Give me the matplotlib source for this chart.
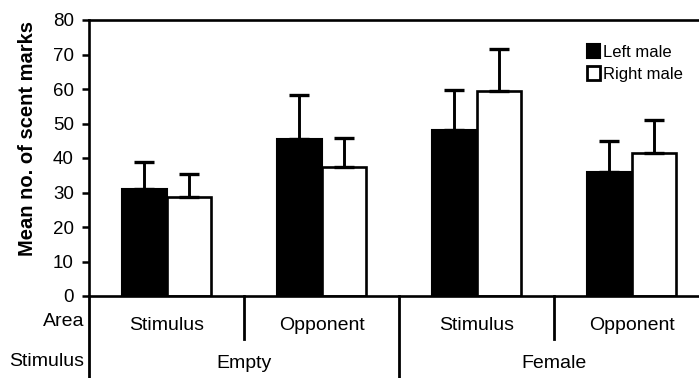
import numpy as np
import matplotlib
matplotlib.use('Agg')
import matplotlib.pyplot as plt
import matplotlib.transforms as mtransforms
from matplotlib.patches import Patch

plt.rcParams['font.family'] = ['Liberation Sans', 'DejaVu Sans']

# data
areas = ['Stimulus', 'Opponent', 'Stimulus', 'Opponent']
stimuli = ['Empty', 'Female']
left_male = [30.9, 45.5, 48.1, 36.0]
left_err = [7.8, 12.8, 11.6, 8.9]
right_male = [28.6, 37.5, 59.5, 41.5]
right_err = [6.7, 8.4, 12.1, 9.5]
yticks = [0, 10, 20, 30, 40, 50, 60, 70, 80]

W, H = 699, 378
fig = plt.figure(figsize=(W / 100, H / 100), dpi=100)
ax = fig.add_axes([89 / W, 1 - 296 / H, 620 / W, 276 / H])

x = np.arange(len(areas))
bw = 0.29
err_kw = dict(ecolor='black', elinewidth=2.1, capsize=7.5, capthick=2.4)

ax.bar(x - bw / 2, left_male, bw, color='black', edgecolor='black', linewidth=1.5,
       yerr=[np.zeros(len(x)), left_err], error_kw=err_kw, label='Left male', zorder=2)
ax.bar(x + bw / 2, right_male, bw, color='white', edgecolor='black', linewidth=1.9,
       yerr=[np.zeros(len(x)), right_err], error_kw=err_kw, label='Right male', zorder=2)

ax.set_xlim(-0.5, 3.5)
ax.set_ylim(0, 80)
ax.set_yticks(yticks)
ax.set_xticks([])
ax.tick_params(axis='y', direction='out', length=5, width=1.8, pad=6, labelsize=13.5)
for s in ['left', 'bottom', 'top']:
    ax.spines[s].set_linewidth(1.9)
ax.spines['right'].set_visible(False)

ax.set_ylabel('Mean no. of scent marks', fontsize=14.5, fontweight='bold')
ax.yaxis.set_label_coords(-0.084, 0.57)

# category axis below the plot
tr = mtransforms.blended_transform_factory(ax.transData, fig.transFigure)
y0 = 1 - 296 / H
for xs in [0.5, 2.5]:
    ax.plot([xs, xs], [y0, 1 - 339 / H], color='black', lw=2, transform=tr, clip_on=False)
for xs in [-0.5, 1.5]:
    ax.plot([xs, xs], [y0, 0], color='black', lw=2, transform=tr, clip_on=False)

for i, a in enumerate(areas):
    ax.text(x[i], 1 - 325 / H, a, transform=tr, ha='center', va='center', fontsize=14)
ax.text(0.5, 1 - 364 / H, stimuli[0], transform=tr, ha='center', va='center', fontsize=14)
ax.text(2.5, 1 - 364 / H, stimuli[1], transform=tr, ha='center', va='center', fontsize=14)

fig.text(84 / W, 1 - 322 / H, 'Area', ha='right', va='center', fontsize=14)
fig.text(84 / W, 1 - 362 / H, 'Stimulus', ha='right', va='center', fontsize=14)

handles = [Patch(facecolor='black', edgecolor='black', linewidth=1.5),
           Patch(facecolor='white', edgecolor='black', linewidth=2)]
fig.legend(handles, ['Left male', 'Right male'], loc='upper left',
           bbox_to_anchor=(579 / W, 1 - 36 / H), frameon=False, fontsize=12,
           handlelength=0.75, handleheight=0.9, handletextpad=0.2,
           borderpad=0, labelspacing=0.35)

fig.savefig('out.png', dpi=100)
